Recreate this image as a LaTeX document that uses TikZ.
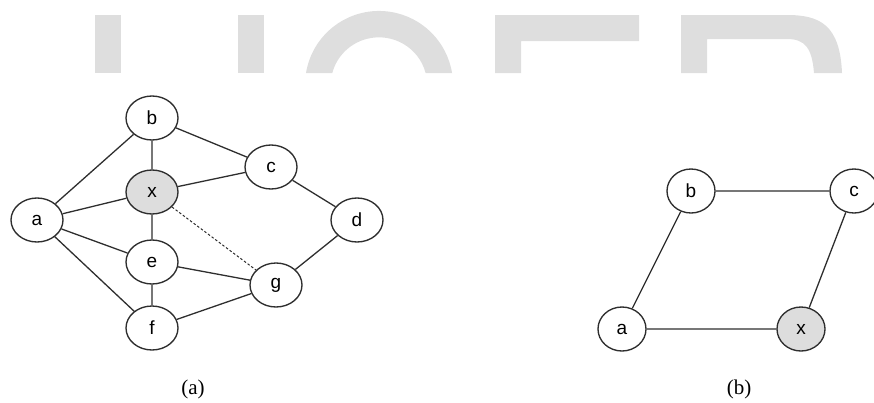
\documentclass[tikz,border=0pt]{standalone}
\usepackage{fontspec}
\setmainfont{Liberation Serif}
\newfontfamily\nodefont{Liberation Sans}
\usetikzlibrary{shapes.geometric}
\definecolor{markgray}{HTML}{DEDEDE}
\definecolor{edgegray}{HTML}{2E2E2E}
\definecolor{shade}{HTML}{DDDDDD}
\begin{document}
\begin{tikzpicture}[x=1pt,y=-1pt,
  vert/.style={ellipse,draw=edgegray,line width=1.35pt,fill=white,inner sep=0pt,
    minimum width=52pt,minimum height=44pt,font=\nodefont\fontsize{19}{19}\selectfont},
  svert/.style={vert,minimum width=48pt,minimum height=44pt},
  marked/.style={fill=shade},
  link/.style={draw=edgegray,line width=1.3pt},
  hint/.style={link,dashed,dash pattern=on 2.5pt off 2pt,line width=1pt},
  caption/.style={font=\fontsize{21}{21}\selectfont}]
\useasboundingbox (0,0) rectangle (874,402);
% faded letters along the top edge
\begin{scope}[fill=markgray]
  \fill (95,15) rectangle (121,73);
  \fill (238,15) rectangle (264,73);
  \fill (306,73) arc[start angle=189.3,end angle=350.7,x radius=74,y radius=74]
        -- (425.6,73) arc[start angle=345.4,end angle=194.6,x radius=48.2,y radius=47.7] -- cycle;
  \fill (495,15) -- (639,15) -- (639,41) -- (521,41) -- (521,73) -- (495,73) -- cycle;
  \fill (681,15) -- (787,15) .. controls (820,15) and (840,25) .. (842,73)
        -- (814,73) .. controls (812,48) and (805,39) .. (787,39)
        -- (707,39) -- (707,73) -- (681,73) -- cycle;
\end{scope}
% graph (a)
\node[vert] (a) at (37,220) {a};
\node[vert] (b) at (152,118) {b};
\node[vert,marked] (x) at (152,192) {x};
\node[vert] (c) at (271,167) {c};
\node[vert] (d) at (357,220) {d};
\node[vert] (e) at (152,262) {e};
\node[vert] (g) at (276,285) {g};
\node[vert] (f) at (152,328) {f};
\path[link] (a) -- (b) (a) -- (x) (a) -- (e) (a) -- (f)
  (b) -- (x) (b) -- (c) (x) -- (c) (x) -- (e)
  (c) -- (d) (d) -- (g) (e) -- (g) (e) -- (f) (f) -- (g);
\path[hint] (x) -- (g);
% graph (b)
\node[svert] (a2) at (622,329) {a};
\node[svert] (b2) at (691,191) {b};
\node[svert] (c2) at (854,191) {c};
\node[svert,marked] (x2) at (801,329) {x};
\path[link] (a2) -- (b2) (b2) -- (c2) (c2) -- (x2) (a2) -- (x2);
% captions
\node[caption] (capa) at (193,389) {(a)};
\node[caption] (capb) at (739,389) {(b)};
\end{tikzpicture}
\end{document}
